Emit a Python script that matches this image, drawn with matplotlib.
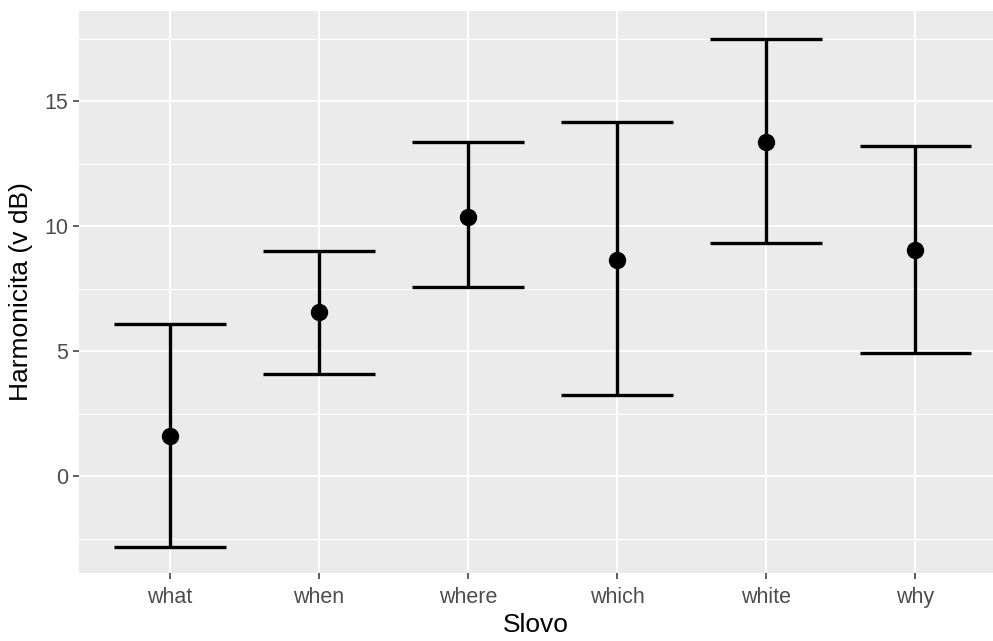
import matplotlib.pyplot as plt
import numpy as np

plt.rcParams["font.family"] = ["Liberation Sans", "DejaVu Sans"]

WORDS = ["what", "when", "where", "which", "white", "why"]
MEANS = [1.6, 6.55, 10.35, 8.65, 13.38, 9.05]
LOWER = [-2.83, 4.08, 7.55, 3.25, 9.33, 4.92]
UPPER = [6.08, 9.02, 13.35, 14.15, 17.5, 13.2]

CAP_HALF = 0.375


def main():
    fig = plt.figure(figsize=(9.93, 6.41), dpi=100)
    ax = fig.add_axes([79 / 993, 68 / 641, 1 - 79 / 993, (573 - 11) / 641])
    ax.set_facecolor("#EBEBEB")
    for s in ax.spines.values():
        s.set_visible(False)

    x = np.arange(1, len(WORDS) + 1)

    # grid
    ax.set_yticks([0, 5, 10, 15])
    ax.set_yticks([-2.5, 2.5, 7.5, 12.5, 17.5], minor=True)
    ax.set_xticks(x)
    ax.set_xticklabels(WORDS)
    ax.grid(which="major", color="white", linewidth=1.4)
    ax.grid(which="minor", axis="y", color="white", linewidth=0.8)
    ax.set_axisbelow(True)

    ax.vlines(x, LOWER, UPPER, color="black", linewidth=2.4, zorder=3)
    ax.hlines(LOWER, x - CAP_HALF, x + CAP_HALF, color="black", linewidth=2.4, zorder=3)
    ax.hlines(UPPER, x - CAP_HALF, x + CAP_HALF, color="black", linewidth=2.4, zorder=3)
    ax.plot(x, MEANS, "o", color="black", markersize=11.5, zorder=4)

    ax.set_xlim(0.39, 6.52)
    ax.set_ylim(-3.88, 18.6)

    ax.tick_params(which="major", length=4.3, width=1.1, color="#333333",
                   labelcolor="#4D4D4D", labelsize=15.5)
    ax.tick_params(axis="x", pad=5.5)
    ax.tick_params(axis="y", pad=3.5)
    ax.tick_params(which="minor", length=0)

    ax.set_xlabel("Slovo", fontsize=19, color="black", labelpad=4)
    ax.set_ylabel("Harmonicita (v dB)", fontsize=19, color="black", labelpad=8)

    fig.savefig("out.png", facecolor="white")
    plt.close(fig)


if __name__ == "__main__":
    main()
